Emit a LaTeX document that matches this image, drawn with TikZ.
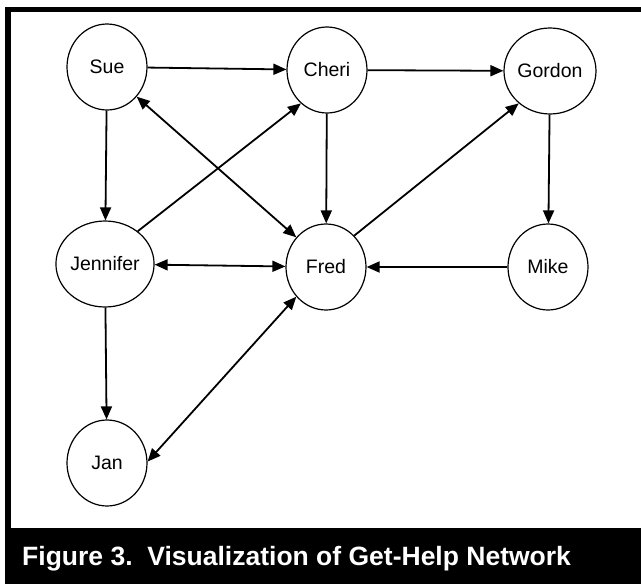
\documentclass[tikz,border=0pt]{standalone}
\usepackage{fontspec}
\setmainfont{Liberation Sans}
\usetikzlibrary{shapes.geometric,arrows.meta}
\tikzset{
  person/.style={ellipse, draw, line width=1.2pt, minimum width=80pt, minimum height=86pt, inner sep=0pt,
    font=\fontsize{19.5}{21}\selectfont},
  tip/.style={Triangle[length=13pt,width=11pt]},
  link/.style={line width=1.8pt, -{Triangle[length=13pt,width=11pt]}},
  duallink/.style={line width=1.8pt, {Triangle[length=13pt,width=11pt]}-{Triangle[length=13pt,width=11pt]}},
}
\begin{document}
\begin{tikzpicture}[x=1pt,y=-1pt]
\useasboundingbox (0,0) rectangle (641,584);
\fill[white] (0,0) rectangle (641,584);
\fill[black] (5,7) rectangle (641,584);
\fill[white] (11,12) rectangle (641,528);

\node[person] (Sue) at (107,67) {Sue};
\node[person] (Cheri) at (327,70) {Cheri};
\node[person] (Gordon) at (550,71) {Gordon};
\node[person] (Jennifer) at (105,264) {Jennifer};
\node[person] (Fred) at (326,267) {Fred};
\node[person] (Mike) at (548,267) {Mike};
\node[person] (Jan) at (107,463) {Jan};

\draw[link] (Sue) -- (Cheri);
\draw[link] (Cheri) -- (Gordon);
\draw[link] (Sue) -- (Jennifer);
\draw[duallink] (Sue.-45) -- (Fred.135);
\draw[link] (Jennifer.45) -- (Cheri.232);
\draw[link] (Cheri) -- (Fred);
\draw[link] (Fred.48) -- (Gordon.226);
\draw[link] (Gordon) -- (Mike);
\draw[duallink] (Jennifer) -- (Fred);
\draw[link] (Mike) -- (Fred);
\draw[link] (Jennifer) -- (Jan);
\draw[duallink] (Fred.225) -- (Jan.2);

\node[anchor=base west, inner sep=0pt, text=white, font=\fontsize{26.5}{28}\selectfont\bfseries] (caption) at (22,565) {Figure 3.\ \ Visualization of Get-Help Network};
\end{tikzpicture}
\end{document}
